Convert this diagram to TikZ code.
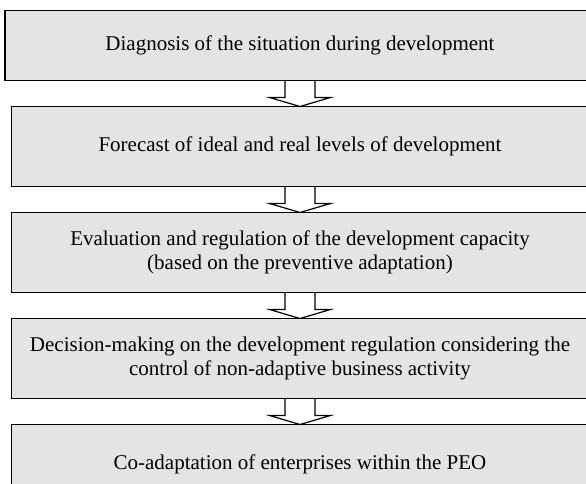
\documentclass[tikz,border=0pt]{standalone}
\usepackage{fontspec}
\setmainfont{Liberation Serif}
\usetikzlibrary{positioning,calc}
\definecolor{boxgray}{RGB}{228,228,228}

\newcommand{\blockarrow}[2]{%
  \draw[line width=1.2pt, line join=miter]
    ($(#1.south)+(-15pt,0)$) -- ($(#1.south)+(-15pt,-17pt)$)
    -- ($(#1.south)+(-30.5pt,-17pt)$) -- (#2.north)
    -- ($(#1.south)+(30.5pt,-17pt)$) -- ($(#1.south)+(15pt,-17pt)$)
    -- ($(#1.south)+(15pt,0)$);}

\begin{document}
\begin{tikzpicture}[x=1pt, y=1pt,
    stage/.style={draw, rectangle, line width=1.8pt, fill=boxgray, inner sep=0pt, outer sep=0pt,
      minimum width=577pt, minimum height=80pt, align=center,
      font=\fontsize{21}{24}\selectfont},
    node distance=26pt]
    \useasboundingbox (0,0) rectangle (586,-484);

    % Nodes
    \node (diag) [stage, minimum width=590pt, minimum height=70pt] at (300,-45.5) {Diagnosis of the situation during development};
    \node (forecast) [stage, below=of diag] {Forecast of ideal and real levels of development};
    \node (eval) [stage, below=of forecast] {Evaluation and regulation of the development capacity\\(based on the preventive adaptation)};
    \node (decision) [stage, below=of eval] {Decision-making on the development regulation considering the\\control of non-adaptive business activity};
    \node (coadapt) [stage, below=of decision] {Co-adaptation of enterprises within the PEO};

    % Arrows
    \blockarrow{diag}{forecast}
    \blockarrow{forecast}{eval}
    \blockarrow{eval}{decision}
    \blockarrow{decision}{coadapt}
\end{tikzpicture}
\end{document}
